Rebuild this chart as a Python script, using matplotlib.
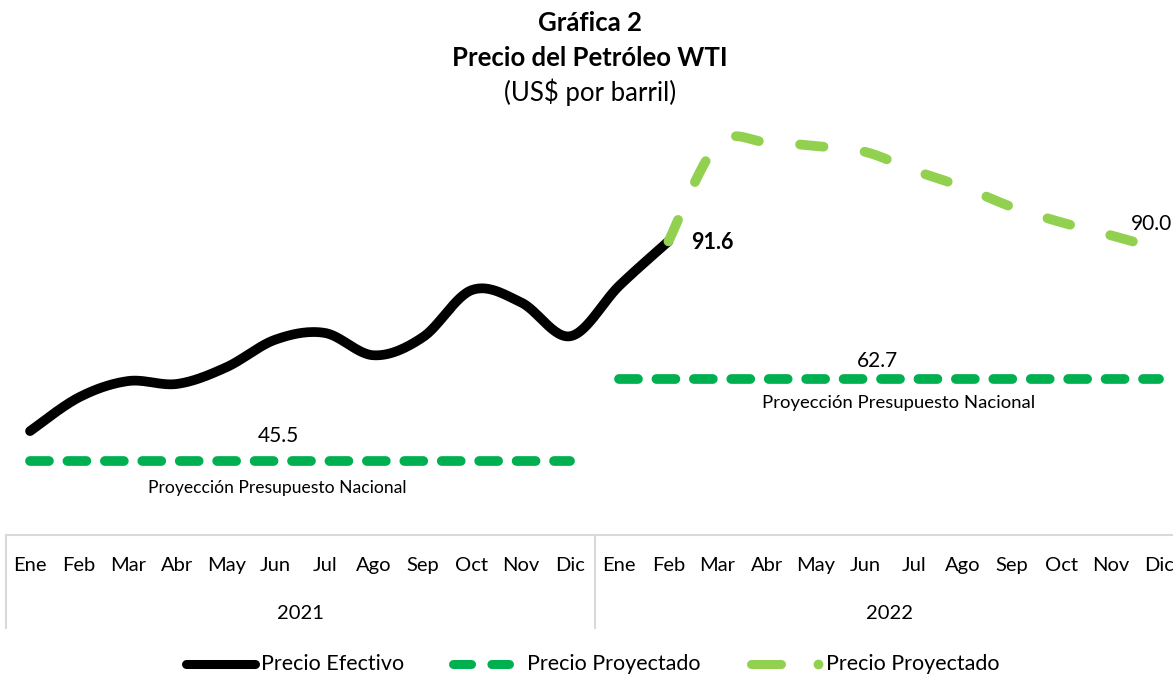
import numpy as np
import matplotlib
matplotlib.use("Agg")
import matplotlib.pyplot as plt
from matplotlib.lines import Line2D
import matplotlib.transforms as mtransforms

plt.rcParams['font.family'] = ['Lato', 'DejaVu Sans']

# ---------------- data ----------------
months = ["Ene", "Feb", "Mar", "Abr", "May", "Jun", "Jul", "Ago", "Sep", "Oct", "Nov", "Dic"]
years = ["2021", "2022"]
precio_efectivo = [51.8, 58.9, 62.3, 61.7, 65.2, 71.0, 72.4, 67.7, 71.5, 81.4, 78.8, 71.7, 82.3, 91.6]  # Ene 2021 - Feb 2022
precio_proyectado = [91.6, 112.0, 112.4, 111.6, 110.4, 106.5, 103.0, 98.8, 95.6, 92.9, 90.0]  # Feb 2022 - Dic 2022
presupuesto_2021 = 45.5
presupuesto_2022 = 62.7

BLACK = "#000000"
GREEN = "#00B050"
LGREEN = "#92D050"
GRID = "#D9D9D9"


def smooth(x, y, n=30):
    """Excel-style smoothed line (Bezier with Catmull-Rom control points)."""
    x = np.asarray(x, float)
    y = np.asarray(y, float)
    P = np.column_stack([x, y])
    out = [P[0]]
    for i in range(len(P) - 1):
        p0 = P[i - 1] if i > 0 else P[i]
        p1 = P[i]
        p2 = P[i + 1]
        p3 = P[i + 2] if i + 2 < len(P) else P[i + 1]
        c1 = p1 + (p2 - p0) / 6.0
        c2 = p2 - (p3 - p1) / 6.0
        t = np.linspace(0, 1, n)[1:, None]
        seg = ((1 - t) ** 3) * p1 + 3 * ((1 - t) ** 2) * t * c1 + 3 * (1 - t) * t ** 2 * c2 + t ** 3 * p2
        out.extend(seg)
    out = np.array(out)
    return out[:, 0], out[:, 1]


W, H = 1173, 674
fig = plt.figure(figsize=(W / 100, H / 100), dpi=100)
# axes in pixel terms: left 5.5, right 1184, top 106, bottom 535
ax = fig.add_axes([5.5 / W, 1 - 535 / H, (1184 - 5.5) / W, (535 - 106) / H])
ax.set_xlim(-0.5, 23.5)
ax.set_ylim(30, 120)
for s in ["left", "right", "top"]:
    ax.spines[s].set_visible(False)
ax.spines["bottom"].set_color(GRID)
ax.spines["bottom"].set_linewidth(1.5)
ax.set_yticks([])
ax.set_xticks([])

x_eff = np.arange(len(precio_efectivo))
x_proj = np.arange(len(precio_efectivo) - 1, len(precio_efectivo) - 1 + len(precio_proyectado))

sx, sy = smooth(x_eff, precio_efectivo)
ax.plot(sx, sy, color=BLACK, lw=7.0, solid_capstyle="round", zorder=3)

px, py = smooth(x_proj, precio_proyectado)
ax.plot(px, py, color=LGREEN, lw=7.0, dashes=(2.42, 4.26), dash_capstyle="round", zorder=4)

ax.plot([0, 11], [presupuesto_2021] * 2, color=GREEN, lw=7.0, dashes=(1.95, 1.9),
        dash_capstyle="round", zorder=2)
ax.plot([12, 23], [presupuesto_2022] * 2, color=GREEN, lw=7.0, dashes=(1.95, 1.9),
        dash_capstyle="round", zorder=2)

# labels
ax.annotate(f"{presupuesto_2021:.1f}", xy=(5.05, presupuesto_2021), xytext=(0, 18),
            textcoords="offset points", ha="center", va="center", fontsize=15)
ax.annotate("Proyección Presupuesto Nacional", xy=(5.03, presupuesto_2021), xytext=(0, -19),
            textcoords="offset points", ha="center", va="center", fontsize=12.6)
ax.annotate(f"{presupuesto_2022:.1f}", xy=(17.25, presupuesto_2022), xytext=(0, 13),
            textcoords="offset points", ha="center", va="center", fontsize=15)
ax.annotate("Proyección Presupuesto Nacional", xy=(17.68, presupuesto_2022), xytext=(0, -17),
            textcoords="offset points", ha="center", va="center", fontsize=13.3)
ax.annotate(f"{precio_efectivo[-1]:.1f}", xy=(x_eff[-1], precio_efectivo[-1]), xytext=(32, -1),
            textcoords="offset points", ha="center", va="center", fontsize=15.5, fontweight="bold")
ax.annotate(f"{precio_proyectado[-1]:.1f}", xy=(x_proj[-1], precio_proyectado[-1]), xytext=(-6, 18),
            textcoords="offset points", ha="center", va="center", fontsize=15)

# category axis (table style)
trans = mtransforms.blended_transform_factory(ax.transData, ax.transAxes)
for yi, yr in enumerate(years):
    for mi, m in enumerate(months):
        ax.text(yi * 12 + mi, -0.072, m, transform=trans, ha="center", va="center", fontsize=14.5)
    ax.text(yi * 12 + 5.5, -0.182, yr, transform=trans, ha="center", va="center", fontsize=14.5)
for xb in [-0.5, 11.5, 23.5]:
    ax.plot([xb, xb], [0, -0.217], transform=trans, color=GRID, lw=1.5, clip_on=False)

# title
fig.text(0.503, 1 - 23 / H, "Gráfica 2", ha="center", va="center", fontsize=18.5, fontweight="bold")
fig.text(0.503, 1 - 58 / H, "Precio del Petróleo WTI", ha="center", va="center", fontsize=18.5, fontweight="bold")
fig.text(0.503, 1 - 92 / H, "(US$ por barril)", ha="center", va="center", fontsize=18.5)

# legend (bottom)
ly = 1 - 664 / H
fig.add_artist(Line2D([186 / W, 255 / W], [ly, ly], color=BLACK, lw=6.5, solid_capstyle="round"))
fig.text(261 / W, ly, "Precio Efectivo", ha="left", va="center", fontsize=15.5)
fig.add_artist(Line2D([453 / W, 509 / W], [ly, ly], color=GREEN, lw=6.5, dashes=(2.0, 2.25),
                      dash_capstyle="round"))
fig.text(527 / W, ly, "Precio Proyectado", ha="left", va="center", fontsize=15.5)
fig.add_artist(Line2D([751 / W, 781 / W], [ly, ly], color=LGREEN, lw=6.5, solid_capstyle="round"))
fig.add_artist(Line2D([818 / W], [ly], color=LGREEN, marker="o", markersize=6, lw=0))
fig.text(826 / W, ly, "Precio Proyectado", ha="left", va="center", fontsize=15.5)

fig.savefig("out.png", dpi=100)
